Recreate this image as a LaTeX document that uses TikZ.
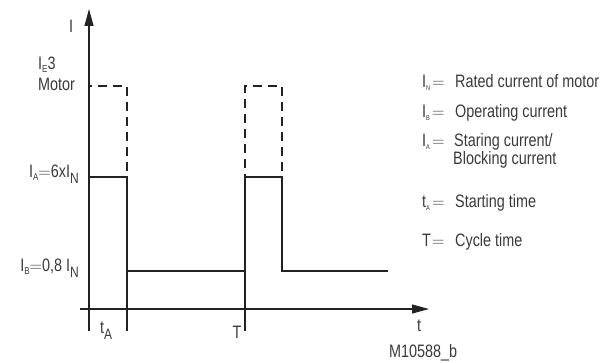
\documentclass[tikz,border=0pt]{standalone}
\usepackage{fontspec}
\setmainfont{Liberation Sans}[FakeStretch=0.8]
\usetikzlibrary{arrows.meta}
\definecolor{txt}{HTML}{3A3A3A}
\definecolor{ln}{HTML}{222222}
\newcommand{\ssub}[1]{\raisebox{-0.15em}{\fontsize{7}{7}\selectfont #1}}
\newcommand{\msub}[1]{\raisebox{-0.15em}{\fontsize{10}{10}\selectfont #1}}
\newcommand{\lsub}[1]{\raisebox{-0.28em}{\fontsize{15}{15}\selectfont #1}}
\newcommand{\eqs}{$=$}
\begin{document}
\begin{tikzpicture}[x=1pt,y=-1pt,
  every node/.style={font=\fontsize{18}{20}\selectfont, text=txt, inner sep=0pt},
  axis/.style={line width=1.1pt, draw=ln},
  arr/.style={-{Triangle[length=17pt,width=9pt]}},
  sig/.style={line width=2.4pt, draw=ln},
  dsh/.style={line width=2.4pt, draw=ln, dash pattern=on 9pt off 6pt, dash phase=6pt},
  lbl/.style={anchor=base west},
  rlbl/.style={anchor=base east}]
\useasboundingbox (0,0) rectangle (606,363);
% coordinates
\coordinate (ybot) at (89,331);
\coordinate (ytop) at (89,9);
\coordinate (xl) at (80,309);
\coordinate (xr) at (429,309);
\coordinate (h0) at (89,177);
\coordinate (h1) at (127,177);
\coordinate (l1) at (127,271);
\coordinate (l2) at (245,271);
\coordinate (h2) at (245,177);
\coordinate (h3) at (282,177);
\coordinate (l3) at (282,271);
\coordinate (l4) at (388,271);
\coordinate (d0) at (89,86);
\coordinate (d1) at (127,86);
\coordinate (d2) at (245,86);
\coordinate (d3) at (282,86);
\coordinate (tA) at (127,331);
\coordinate (tT) at (245,331);
% axes
\draw[axis,arr] (ybot) -- (ytop);
\draw[axis,arr] (xl) -- (xr);
\draw[axis] (l1) -- (tA);
\draw[axis] (l2) -- (tT);
% signal
\draw[sig] (h0) -- (h1) -- (l1) -- (l2) -- (h2) -- (h3) -- (l3) -- (l4);
% dashed motor current
\draw[dsh] (d0) -- (d1) -- (h1);
\draw[dsh] (h2) -- (d2) -- (d3) -- (h3);
% axis labels
\node[anchor=base] (lI) at (71,33) {I};
\node[lbl] (lIE) at (38,70) {I\msub{E}3};
\node[lbl] (lMot) at (38,91) {Motor};
\node[rlbl] (lIA) at (79,178) {I\msub{A}\eqs 6xI\lsub{N}};
\node[rlbl] (lIB) at (79,272) {I\msub{B}\eqs 0,8 I\lsub{N}};
\node[lbl] (ltA) at (100,334) {t\lsub{A}};
\node[anchor=base] (lT) at (237,339) {T};
\node[anchor=base] (lt) at (419,332) {t};
\node[lbl] (lM) at (389,358) {M10588\_b};
% legend
\node[lbl] (k1) at (422,88) {I\ssub{N}};
\node[lbl] (e1) at (432,88) {$=$};
\node[lbl] (t1) at (455,88) {Rated current of motor};
\node[lbl] (k2) at (422,118) {I\ssub{B}};
\node[lbl] (e2) at (432,118) {$=$};
\node[lbl] (t2) at (455,118) {Operating current};
\node[lbl] (k3) at (422,147) {I\ssub{A}};
\node[lbl] (e3) at (432,147) {$=$};
\node[lbl] (t3) at (454,147) {Staring current/};
\node[lbl] (t3b) at (453,165) {Blocking current};
\node[lbl] (k4) at (422,208) {t\ssub{A}};
\node[lbl] (e4) at (432,208) {$=$};
\node[lbl] (t4) at (455,208) {Starting time};
\node[lbl] (k5) at (422,247) {T};
\node[lbl] (e5) at (432,247) {$=$};
\node[lbl] (t5) at (455,247) {Cycle time};
\end{tikzpicture}
\end{document}
